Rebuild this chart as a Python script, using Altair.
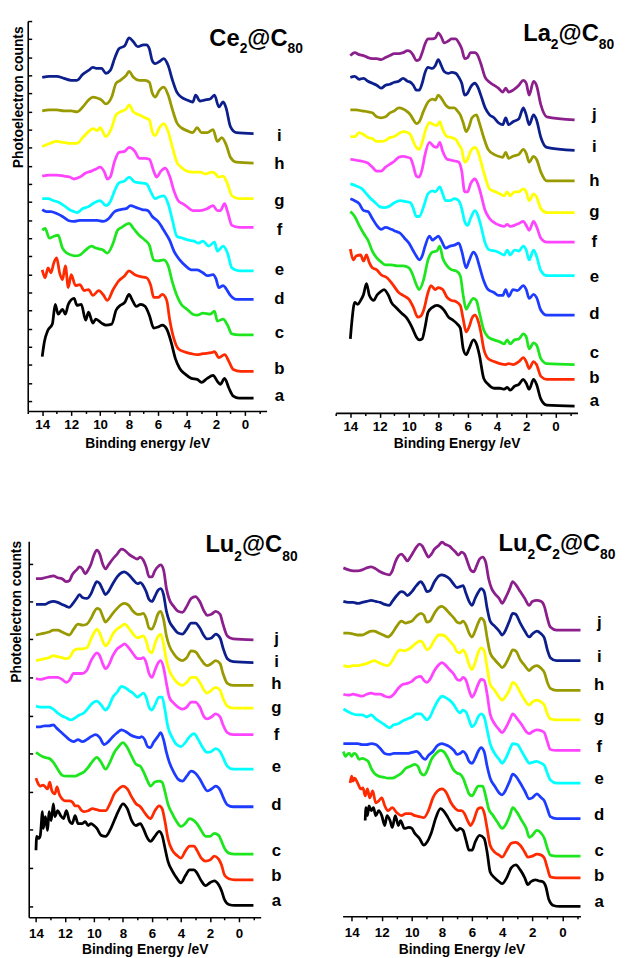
import altair as alt
import pandas as pd

FONT = "Liberation Sans"

# ---------------- Ce2@C80 (binding energy eV, counts a.u.) ----------------
CE_A = [(14.0,55),(13.85,70),(13.6,82),(13.3,88),(13.1,108),(12.9,98),(12.6,103),(12.4,98),(12.2,108),(11.8,114),(11.6,107),(11.3,108),(11.0,92),(10.8,100),(10.5,89),(10.3,93),(9.9,89),(9.6,87),(9.2,88),(8.9,102),(8.6,107),(8.3,110),(8.0,118),(7.8,113),(7.5,106),(7.2,108),(6.9,106),(6.6,97),(6.3,84),(6.0,85),(5.7,87),(5.4,83),(5.1,70),(4.8,53),(4.5,43),(4.1,37),(3.7,33),(3.3,32),(3.0,29),(2.6,33),(2.2,36),(1.9,30),(1.7,27),(1.4,33),(1.1,23),(0.8,15),(0.4,13),(-0.6,13)]
CE_B = [(14.0,143),(13.8,135),(13.6,145),(13.4,140),(13.2,150),(13.0,155),(12.8,140),(12.6,133),(12.4,147),(12.2,125),(12.0,138),(11.7,127),(11.4,128),(11.1,122),(10.8,123),(10.5,117),(10.1,122),(9.8,118),(9.5,112),(9.1,123),(8.7,132),(8.3,137),(8.0,142),(7.6,138),(7.2,136),(6.8,135),(6.5,127),(6.3,115),(6.0,115),(5.7,118),(5.4,112),(5.2,93),(4.9,73),(4.6,63),(4.2,60),(3.7,58),(3.3,57),(2.9,58),(2.3,59),(2.1,60),(1.8,54),(1.4,57),(1.1,50),(0.8,42),(0.3,40),(-0.6,40)]
CE_C = [(14.0,183),(13.8,185),(13.5,175),(13.2,177),(12.9,178),(12.6,165),(12.3,160),(12.0,158),(11.7,157),(11.4,158),(11.0,163),(10.6,167),(10.3,165),(9.8,163),(9.5,160),(9.1,170),(8.8,183),(8.5,186),(8.0,190),(7.7,185),(7.3,178),(6.9,173),(6.6,168),(6.3,153),(6.0,152),(5.6,153),(5.3,147),(5.0,130),(4.7,117),(4.4,108),(4.0,103),(3.6,98),(3.3,97),(2.9,99),(2.4,98),(2.1,101),(1.9,91),(1.5,93),(1.2,87),(0.9,78),(0.4,77),(-0.6,77)]
CE_D = [(14.0,204),(13.7,202),(13.4,202),(13.0,200),(12.6,197),(12.2,193),(11.8,192),(11.4,193),(11.0,193),(10.6,193),(10.2,193),(9.8,192),(9.4,195),(9.0,202),(8.6,204),(8.2,205),(7.9,208),(7.5,206),(7.1,204),(6.7,203),(6.4,197),(6.0,192),(5.6,183),(5.2,173),(4.9,162),(4.5,153),(4.1,147),(3.7,143),(3.3,143),(2.9,140),(2.6,137),(2.2,138),(2.0,134),(1.8,125),(1.5,127),(1.3,124),(1.0,117),(0.6,113),(-0.6,113)]
CE_E = [(14.0,215),(13.6,215),(13.2,213),(12.8,211),(12.4,207),(12.0,203),(11.6,201),(11.2,205),(10.8,207),(10.4,211),(10.0,213),(9.6,208),(9.3,212),(9.0,223),(8.7,231),(8.3,233),(8.0,237),(7.6,232),(7.2,231),(6.8,230),(6.5,222),(6.2,215),(5.9,217),(5.6,218),(5.3,210),(5.0,193),(4.7,177),(4.3,175),(3.9,173),(3.5,172),(3.2,170),(2.9,172),(2.5,167),(2.1,171),(1.9,162),(1.5,167),(1.2,160),(0.9,145),(0.4,142),(-0.6,142)]
CE_F = [(14.0,238),(13.5,239),(13.0,239),(12.5,238),(12.1,237),(11.8,235),(11.4,237),(11.0,241),(10.6,243),(10.3,245),(10.0,247),(9.7,242),(9.5,235),(9.3,237),(9.0,253),(8.7,262),(8.3,263),(8.0,267),(7.6,263),(7.3,256),(6.9,256),(6.6,255),(6.3,243),(6.1,237),(5.8,243),(5.5,246),(5.2,238),(4.9,223),(4.6,213),(4.3,210),(4.0,207),(3.6,203),(3.1,203),(2.6,205),(2.2,208),(1.9,203),(1.7,203),(1.4,210),(1.2,202),(0.9,188),(0.4,186),(-0.6,186)]
CE_G = [(14.0,268),(13.5,271),(13.0,273),(12.5,272),(12.0,271),(11.6,271),(11.2,277),(10.8,283),(10.5,286),(10.2,284),(10.0,287),(9.6,278),(9.2,287),(8.9,300),(8.6,303),(8.2,306),(8.0,310),(7.7,303),(7.3,300),(6.9,297),(6.6,295),(6.4,283),(6.2,279),(5.9,287),(5.6,291),(5.3,283),(5.0,267),(4.7,252),(4.4,247),(4.0,243),(3.6,242),(3.1,242),(2.7,240),(2.3,242),(2.1,241),(1.8,237),(1.5,238),(1.2,230),(0.9,218),(0.4,215),(-0.6,215)]
CE_H = [(14.0,304),(13.5,305),(13.0,305),(12.5,304),(12.0,304),(11.6,303),(11.2,308),(10.8,315),(10.5,318),(10.2,317),(9.9,315),(9.6,311),(9.2,318),(8.9,332),(8.6,335),(8.2,340),(8.0,344),(7.7,338),(7.3,335),(6.9,335),(6.6,333),(6.4,322),(6.2,318),(5.9,325),(5.6,328),(5.3,320),(5.0,305),(4.7,292),(4.4,287),(4.0,284),(3.6,282),(3.3,287),(3.0,282),(2.6,282),(2.2,285),(1.9,273),(1.6,277),(1.3,270),(1.0,257),(0.6,252),(-0.6,251)]
CE_I = [(14.0,338),(13.5,339),(13.0,339),(12.5,337),(12.0,335),(11.6,335),(11.2,341),(10.8,345),(10.5,348),(10.2,347),(9.9,347),(9.6,342),(9.3,345),(9.0,357),(8.7,367),(8.3,370),(8.0,378),(7.7,374),(7.4,369),(7.0,371),(6.8,371),(6.6,367),(6.4,355),(6.2,352),(5.9,354),(5.6,357),(5.3,350),(5.0,335),(4.7,323),(4.4,318),(4.0,315),(3.6,313),(3.4,320),(3.1,314),(2.8,315),(2.4,316),(2.1,320),(1.8,308),(1.5,313),(1.3,307),(1.0,288),(0.6,282),(-0.6,281)]
CE_LABEL_Y = [10, 37, 74, 108, 138, 178, 208, 245, 273]
CE_YTICKS = [10, 28.3, 46.7, 65, 83.3, 101.7, 120, 138.3, 156.7, 175, 193.3, 211.7, 230, 248.3, 266.7, 285, 303.3, 321.7, 340, 358.3, 376.7, 395]

# ---------------- La2@C80 ----------------
LA_A = [(14.0,75),(13.9,92),(13.7,112),(13.5,110),(13.3,114),(13.1,120),(12.9,131),(12.7,119),(12.4,114),(12.2,119),(12.0,122),(11.7,125),(11.4,119),(11.2,112),(10.9,107),(10.5,101),(10.2,97),(9.8,87),(9.5,77),(9.3,74),(9.1,75),(8.9,87),(8.7,102),(8.4,107),(8.1,109),(7.9,108),(7.6,104),(7.3,97),(7.0,94),(6.7,90),(6.5,86),(6.3,65),(6.1,59),(5.9,65),(5.6,74),(5.4,70),(5.2,59),(4.9,35),(4.6,29),(4.2,25),(3.8,25),(3.5,24),(3.3,26),(3.1,23),(2.8,27),(2.5,29),(2.2,34),(2.0,30),(1.8,24),(1.5,34),(1.3,29),(1.0,14),(0.6,8),(-1.3,7)]
LA_B = [(14.0,166),(13.8,155),(13.6,159),(13.3,160),(13.1,154),(12.9,160),(12.7,152),(12.5,147),(12.2,145),(11.9,140),(11.5,137),(11.1,130),(10.7,122),(10.4,119),(10.0,115),(9.7,107),(9.4,97),(9.2,98),(9.0,104),(8.7,122),(8.5,129),(8.2,125),(8.0,127),(7.7,125),(7.4,117),(7.1,114),(6.8,113),(6.5,109),(6.3,95),(6.1,82),(5.9,87),(5.7,96),(5.5,99),(5.3,94),(5.1,82),(4.9,65),(4.6,55),(4.2,52),(3.8,50),(3.4,49),(3.2,50),(2.9,49),(2.5,52),(2.2,56),(2.0,52),(1.8,45),(1.5,52),(1.3,49),(1.0,37),(0.6,34),(-1.3,34)]
LA_C = [(14.0,204),(13.7,199),(13.4,190),(13.1,182),(12.8,175),(12.5,164),(12.2,157),(11.9,153),(11.6,150),(11.2,150),(10.8,149),(10.4,149),(10.0,147),(9.8,142),(9.5,130),(9.3,125),(9.0,135),(8.7,155),(8.4,163),(8.1,164),(7.9,169),(7.7,157),(7.4,149),(7.1,145),(6.8,144),(6.5,139),(6.3,119),(6.1,105),(5.9,110),(5.6,116),(5.4,114),(5.2,102),(4.9,84),(4.6,77),(4.2,74),(3.8,72),(3.5,70),(3.3,74),(3.1,70),(2.8,74),(2.5,75),(2.2,80),(2.0,77),(1.8,65),(1.5,71),(1.3,69),(1.0,55),(0.6,50),(-1.3,49)]
LA_D = [(14.0,217),(13.7,215),(13.4,212),(13.1,205),(12.8,204),(12.5,197),(12.2,190),(11.9,186),(11.6,188),(11.2,186),(10.9,184),(10.6,182),(10.3,177),(10.0,172),(9.7,164),(9.5,159),(9.3,155),(9.1,159),(8.9,169),(8.6,179),(8.4,175),(8.2,177),(8.0,179),(7.8,175),(7.5,167),(7.2,169),(6.9,170),(6.6,172),(6.4,164),(6.1,147),(5.9,154),(5.6,163),(5.4,159),(5.2,149),(4.9,134),(4.6,125),(4.2,122),(3.9,119),(3.6,119),(3.4,125),(3.2,118),(2.9,125),(2.6,124),(2.2,129),(2.0,125),(1.8,116),(1.5,120),(1.3,117),(1.0,104),(0.6,99),(-1.3,99)]
LA_E = [(14.0,232),(13.6,230),(13.2,227),(12.9,222),(12.6,217),(12.3,213),(12.0,209),(11.7,208),(11.4,209),(11.0,213),(10.6,215),(10.2,214),(9.9,213),(9.7,207),(9.5,199),(9.3,199),(9.0,209),(8.7,222),(8.4,225),(8.2,224),(7.9,229),(7.7,222),(7.5,215),(7.2,215),(6.9,217),(6.6,215),(6.4,207),(6.2,194),(6.0,190),(5.8,197),(5.5,205),(5.3,200),(5.1,190),(4.8,172),(4.5,165),(4.1,164),(3.8,162),(3.5,160),(3.3,165),(3.1,160),(2.8,165),(2.5,164),(2.2,169),(2.0,165),(1.8,155),(1.5,165),(1.3,159),(1.0,144),(0.6,139),(-1.3,139)]
LA_F = [(14.0,257),(13.6,256),(13.2,255),(12.8,253),(12.5,249),(12.2,245),(11.9,245),(11.6,249),(11.3,252),(11.0,255),(10.7,259),(10.4,260),(10.1,259),(9.9,258),(9.7,250),(9.5,240),(9.3,239),(9.1,247),(8.9,262),(8.6,274),(8.3,270),(8.1,269),(7.9,274),(7.7,265),(7.4,257),(7.1,256),(6.8,255),(6.6,254),(6.4,245),(6.2,224),(6.0,224),(5.8,232),(5.5,237),(5.3,232),(5.1,222),(4.8,205),(4.5,197),(4.1,192),(3.8,190),(3.5,189),(3.3,191),(3.1,189),(2.8,190),(2.5,192),(2.2,194),(2.0,190),(1.8,185),(1.5,194),(1.3,189),(1.0,177),(0.6,173),(-1.3,173)]
LA_G = [(14.0,280),(13.7,280),(13.4,284),(13.1,282),(12.8,279),(12.5,278),(12.2,275),(11.9,275),(11.6,276),(11.3,279),(11.0,280),(10.7,283),(10.4,285),(10.1,284),(9.9,282),(9.7,275),(9.5,269),(9.3,267),(9.1,274),(8.9,285),(8.6,294),(8.3,292),(8.1,291),(7.9,295),(7.7,287),(7.4,280),(7.1,279),(6.8,277),(6.6,272),(6.4,267),(6.2,254),(6.0,257),(5.8,265),(5.5,269),(5.3,265),(5.1,255),(4.8,239),(4.5,227),(4.1,224),(3.8,222),(3.5,220),(3.3,224),(3.1,220),(2.8,224),(2.5,224),(2.2,227),(2.0,224),(1.8,215),(1.5,222),(1.3,219),(1.0,207),(0.6,203),(-1.3,203)]
LA_H = [(14.0,307),(13.6,307),(13.2,306),(12.8,305),(12.5,304),(12.2,300),(11.9,299),(11.6,300),(11.3,304),(11.0,306),(10.7,309),(10.4,308),(10.1,305),(9.9,302),(9.7,297),(9.5,293),(9.3,295),(9.0,306),(8.7,315),(8.4,318),(8.2,317),(8.0,322),(7.8,319),(7.5,312),(7.2,309),(6.9,309),(6.7,306),(6.5,302),(6.3,294),(6.1,285),(5.9,290),(5.7,299),(5.4,302),(5.2,294),(4.9,279),(4.6,267),(4.2,262),(3.9,260),(3.6,259),(3.4,264),(3.2,258),(2.9,260),(2.5,262),(2.2,267),(2.0,263),(1.8,254),(1.5,260),(1.3,257),(1.0,244),(0.6,235),(-1.3,235)]
LA_I = [(14.0,340),(13.7,341),(13.4,338),(13.1,339),(12.8,336),(12.5,334),(12.2,332),(11.9,329),(11.6,332),(11.3,333),(11.0,335),(10.7,336),(10.4,339),(10.1,336),(9.9,335),(9.7,332),(9.5,327),(9.3,327),(9.1,334),(8.9,345),(8.7,350),(8.4,349),(8.2,352),(8.0,358),(7.8,352),(7.6,346),(7.3,344),(7.1,345),(6.8,344),(6.6,340),(6.4,334),(6.2,322),(6.0,324),(5.8,330),(5.5,334),(5.3,330),(5.1,322),(4.8,309),(4.5,302),(4.2,299),(3.9,294),(3.6,292),(3.4,299),(3.2,292),(2.9,295),(2.5,298),(2.2,309),(2.0,302),(1.8,292),(1.5,302),(1.3,297),(1.0,279),(0.6,269),(-1.3,266)]
LA_J = [(14.0,362),(13.7,365),(13.4,363),(13.1,362),(12.8,360),(12.5,359),(12.2,359),(11.9,358),(11.6,360),(11.3,362),(11.0,364),(10.7,364),(10.4,365),(10.1,367),(9.9,366),(9.7,362),(9.5,357),(9.3,358),(9.1,365),(8.9,374),(8.7,379),(8.4,379),(8.2,380),(8.0,385),(7.8,381),(7.6,375),(7.3,377),(7.1,379),(6.8,379),(6.6,375),(6.4,369),(6.2,359),(6.0,360),(5.8,365),(5.5,365),(5.3,362),(5.1,354),(4.8,340),(4.5,335),(4.2,332),(3.9,329),(3.6,325),(3.4,329),(3.2,325),(2.9,327),(2.5,332),(2.2,337),(2.0,334),(1.8,322),(1.5,336),(1.3,332),(1.0,312),(0.6,300),(-1.3,297)]
LA_LABEL_Y = [7, 30, 56, 95, 133, 168, 199, 230, 264, 297]

# ---------------- Lu2@C80 ----------------
LU_A = [(14.0,68),(13.95,82),(13.8,80),(13.7,83),(13.55,107),(13.5,90),(13.35,102),(13.2,88),(13.1,107),(12.95,98),(12.8,115),(12.7,102),(12.5,108),(12.3,103),(12.1,100),(11.9,108),(11.7,98),(11.5,95),(11.3,103),(11.1,95),(10.8,95),(10.6,97),(10.4,93),(10.2,95),(10.0,93),(9.8,90),(9.5,83),(9.2,82),(8.9,88),(8.6,98),(8.3,108),(8.0,115),(7.7,110),(7.4,98),(7.1,93),(6.8,95),(6.6,90),(6.3,80),(6.1,77),(5.8,82),(5.5,87),(5.3,83),(5.1,70),(4.9,57),(4.6,47),(4.3,40),(4.0,35),(3.7,42),(3.4,48),(3.1,48),(2.9,45),(2.6,37),(2.3,32),(2.0,35),(1.7,37),(1.4,33),(1.2,27),(1.0,18),(0.7,13),(0.3,12),(-1.0,12)]
LU_B = [(14.0,141),(13.9,137),(13.7,133),(13.5,134),(13.35,132),(13.2,130),(13.05,137),(12.9,128),(12.7,125),(12.55,132),(12.4,125),(12.2,120),(12.0,118),(11.7,118),(11.5,117),(11.3,113),(11.1,113),(10.9,109),(10.7,107),(10.4,108),(10.1,110),(9.8,109),(9.5,108),(9.2,108),(8.9,115),(8.6,125),(8.3,130),(8.0,133),(7.7,130),(7.4,122),(7.1,115),(6.8,112),(6.6,108),(6.3,102),(6.1,100),(5.8,108),(5.5,113),(5.3,110),(5.1,97),(4.9,80),(4.6,68),(4.3,63),(4.0,60),(3.7,67),(3.4,72),(3.1,72),(2.9,68),(2.6,60),(2.3,57),(2.0,58),(1.7,62),(1.4,59),(1.2,53),(1.0,43),(0.7,39),(0.3,38),(-1.0,38)]
LU_C = [(14.0,167),(13.7,164),(13.4,162),(13.1,161),(12.8,157),(12.5,150),(12.2,144),(11.9,143),(11.6,143),(11.3,143),(11.0,145),(10.7,147),(10.4,152),(10.1,158),(9.8,162),(9.5,157),(9.2,150),(8.9,157),(8.6,167),(8.3,173),(8.0,177),(7.7,172),(7.4,163),(7.1,155),(6.8,153),(6.6,148),(6.3,138),(6.1,133),(5.8,137),(5.5,138),(5.3,137),(5.1,127),(4.9,115),(4.6,105),(4.3,97),(4.0,92),(3.7,95),(3.4,100),(3.1,98),(2.9,95),(2.6,88),(2.3,82),(2.0,82),(1.7,85),(1.4,83),(1.2,77),(1.0,70),(0.7,65),(0.3,64),(-1.0,64)]
LU_D = [(14.0,193),(13.7,193),(13.4,194),(13.1,194),(12.8,195),(12.6,192),(12.3,188),(12.0,184),(11.7,180),(11.4,178),(11.1,180),(10.8,178),(10.5,180),(10.2,183),(9.9,185),(9.6,182),(9.3,175),(9.0,178),(8.7,183),(8.4,187),(8.1,190),(7.8,188),(7.5,185),(7.2,183),(6.9,182),(6.7,183),(6.5,180),(6.3,173),(6.1,172),(5.9,177),(5.6,183),(5.4,187),(5.2,180),(5.0,167),(4.8,157),(4.5,147),(4.2,140),(3.9,138),(3.6,143),(3.3,148),(3.0,146),(2.7,140),(2.4,132),(2.2,128),(1.9,130),(1.6,133),(1.3,129),(1.1,122),(0.8,114),(0.4,112),(-1.0,112)]
LU_E = [(14.0,214),(13.7,213),(13.4,213),(13.1,213),(12.8,211),(12.5,207),(12.2,204),(11.9,202),(11.6,200),(11.3,202),(11.0,205),(10.7,207),(10.4,212),(10.1,217),(9.8,219),(9.5,215),(9.2,210),(9.0,213),(8.7,223),(8.4,228),(8.1,234),(7.9,233),(7.6,230),(7.3,227),(7.0,223),(6.8,225),(6.6,227),(6.4,223),(6.2,213),(6.0,210),(5.8,215),(5.5,223),(5.3,223),(5.1,210),(4.9,193),(4.6,182),(4.3,175),(4.0,173),(3.7,177),(3.4,183),(3.1,186),(2.8,180),(2.5,172),(2.2,167),(1.9,168),(1.6,171),(1.3,168),(1.1,162),(0.8,153),(0.4,150),(-1.0,150)]
LU_F = [(14.0,242),(13.7,241),(13.4,242),(13.1,243),(12.8,243),(12.5,243),(12.2,241),(11.9,238),(11.7,240),(11.4,247),(11.1,247),(10.8,247),(10.5,250),(10.2,260),(10.0,265),(9.8,268),(9.6,265),(9.4,257),(9.2,252),(9.0,255),(8.7,265),(8.4,272),(8.1,275),(7.9,277),(7.6,273),(7.3,267),(7.0,262),(6.8,262),(6.6,263),(6.4,258),(6.2,247),(6.0,243),(5.8,250),(5.6,257),(5.4,260),(5.2,253),(5.0,237),(4.8,223),(4.5,217),(4.2,213),(3.9,211),(3.6,213),(3.3,218),(3.0,218),(2.7,213),(2.4,203),(2.2,201),(1.9,203),(1.6,206),(1.3,203),(1.1,195),(0.8,187),(0.4,185),(-1.0,185)]
LU_G = [(14.0,260),(13.7,261),(13.4,262),(13.1,263),(12.8,265),(12.5,264),(12.2,263),(11.9,262),(11.7,263),(11.4,270),(11.1,272),(10.8,272),(10.5,273),(10.2,282),(10.0,288),(9.8,292),(9.6,288),(9.4,280),(9.2,275),(9.0,278),(8.7,287),(8.4,292),(8.1,295),(7.9,297),(7.6,293),(7.3,287),(7.0,283),(6.8,284),(6.6,285),(6.4,280),(6.2,270),(6.0,268),(5.8,277),(5.6,284),(5.4,287),(5.2,277),(5.0,260),(4.8,250),(4.5,242),(4.2,237),(3.9,235),(3.6,238),(3.3,243),(3.0,243),(2.7,238),(2.4,230),(2.2,227),(1.9,230),(1.6,233),(1.3,230),(1.1,222),(0.8,214),(0.4,212),(-1.0,212)]
LU_H = [(14.0,286),(13.7,287),(13.4,288),(13.1,289),(12.8,291),(12.5,291),(12.2,289),(11.9,287),(11.7,286),(11.4,292),(11.1,297),(10.8,296),(10.5,297),(10.2,303),(10.0,309),(9.8,313),(9.6,312),(9.4,305),(9.2,299),(9.0,302),(8.7,308),(8.4,313),(8.1,317),(7.9,318),(7.6,316),(7.3,310),(7.0,307),(6.8,307),(6.6,308),(6.4,303),(6.2,293),(6.0,292),(5.8,298),(5.6,307),(5.4,310),(5.2,302),(5.0,285),(4.8,275),(4.5,267),(4.2,262),(3.9,260),(3.6,263),(3.3,270),(3.0,269),(2.7,263),(2.4,257),(2.2,255),(1.9,257),(1.6,260),(1.3,257),(1.1,247),(0.8,237),(0.4,235),(-1.0,235)]
LU_I = [(14.0,317),(13.7,317),(13.4,317),(13.1,319),(12.8,320),(12.5,319),(12.2,317),(11.9,315),(11.7,314),(11.5,317),(11.2,323),(11.0,327),(10.8,324),(10.5,323),(10.2,328),(10.0,335),(9.8,340),(9.6,338),(9.4,332),(9.2,327),(9.0,330),(8.7,338),(8.4,345),(8.1,349),(7.9,350),(7.6,347),(7.3,342),(7.0,338),(6.8,339),(6.6,336),(6.4,330),(6.2,322),(6.0,320),(5.8,325),(5.6,331),(5.4,333),(5.2,327),(5.0,310),(4.8,300),(4.5,293),(4.2,288),(3.9,287),(3.6,292),(3.3,298),(3.0,298),(2.7,293),(2.4,285),(2.2,282),(1.9,283),(1.6,287),(1.3,283),(1.1,273),(0.8,262),(0.4,259),(-1.0,258)]
LU_J = [(14.0,343),(13.7,343),(13.4,344),(13.1,345),(12.8,346),(12.5,344),(12.2,343),(11.9,340),(11.7,341),(11.5,347),(11.2,352),(11.0,355),(10.8,353),(10.6,348),(10.4,352),(10.2,358),(10.0,367),(9.8,372),(9.6,368),(9.4,358),(9.2,353),(9.0,357),(8.7,363),(8.4,368),(8.1,373),(7.9,372),(7.6,368),(7.3,365),(7.0,363),(6.8,365),(6.6,362),(6.4,355),(6.2,345),(6.0,345),(5.8,351),(5.6,355),(5.4,357),(5.2,352),(5.0,333),(4.8,322),(4.5,315),(4.2,310),(3.9,309),(3.6,315),(3.3,323),(3.0,325),(2.7,320),(2.4,310),(2.2,306),(1.9,307),(1.6,310),(1.3,307),(1.1,297),(0.8,285),(0.4,282),(-1.0,281)]
LU_LABEL_Y = [11, 37, 62, 109, 147, 180, 207, 231, 254, 277]
LU_YTICKS = [11, 50, 89, 127, 166, 204, 243, 282, 320, 358]

# ---------------- Lu2C2@C80 ----------------
LC_A = [(13.1,97),(13.05,110),(12.95,102),(12.85,112),(12.7,107),(12.55,110),(12.4,102),(12.2,107),(12.0,102),(11.8,92),(11.65,102),(11.45,97),(11.3,90),(11.1,102),(10.9,92),(10.75,97),(10.5,89),(10.2,90),(10.0,89),(9.8,84),(9.5,79),(9.2,72),(9.0,75),(8.7,85),(8.4,100),(8.1,109),(7.9,107),(7.6,100),(7.3,92),(7.0,87),(6.8,89),(6.6,87),(6.4,77),(6.2,67),(6.0,67),(5.8,75),(5.5,82),(5.2,79),(5.0,65),(4.8,45),(4.5,39),(4.2,35),(4.0,33),(3.7,39),(3.4,49),(3.1,52),(2.8,47),(2.5,39),(2.3,32),(2.1,35),(1.8,37),(1.6,36),(1.3,35),(1.1,30),(0.9,17),(0.6,11),(0.2,10),(-1.2,10)]
LC_B = [(14.1,135),(14.0,142),(13.9,137),(13.8,140),(13.6,135),(13.4,129),(13.25,130),(13.1,122),(12.95,129),(12.8,120),(12.6,127),(12.4,115),(12.2,117),(12.0,120),(11.8,112),(11.6,107),(11.3,110),(11.0,105),(10.7,102),(10.4,104),(10.1,104),(9.8,102),(9.5,101),(9.2,100),(8.9,107),(8.6,120),(8.3,127),(8.0,129),(7.7,125),(7.4,115),(7.1,109),(6.9,107),(6.7,107),(6.5,104),(6.3,97),(6.1,92),(5.9,97),(5.6,109),(5.4,110),(5.2,105),(5.0,89),(4.8,72),(4.5,65),(4.2,62),(4.0,60),(3.7,67),(3.4,74),(3.1,75),(2.8,72),(2.5,65),(2.3,60),(2.0,61),(1.7,63),(1.4,62),(1.2,59),(1.0,49),(0.8,40),(0.4,39),(-1.2,39)]
LC_C = [(14.55,167),(14.4,162),(14.3,164),(14.15,165),(14.0,162),(13.85,165),(13.7,164),(13.5,159),(13.3,160),(13.1,159),(12.9,157),(12.7,150),(12.5,145),(12.2,142),(11.9,141),(11.6,140),(11.3,140),(11.0,142),(10.7,145),(10.4,150),(10.1,152),(9.8,154),(9.6,152),(9.4,145),(9.2,143),(9.0,147),(8.7,159),(8.4,165),(8.1,168),(7.9,167),(7.6,160),(7.3,150),(7.0,145),(6.8,144),(6.6,140),(6.4,132),(6.2,124),(6.0,122),(5.8,127),(5.6,132),(5.3,132),(5.1,122),(4.9,109),(4.6,102),(4.3,95),(4.0,89),(3.8,92),(3.5,102),(3.3,110),(3.0,105),(2.7,97),(2.4,89),(2.2,80),(2.0,82),(1.7,87),(1.4,84),(1.2,79),(1.0,69),(0.8,62),(0.4,61),(-1.2,61)]
LC_D = [(14.55,175),(14.2,175),(13.9,175),(13.6,175),(13.3,174),(13.0,174),(12.7,175),(12.4,174),(12.1,170),(11.8,165),(11.5,164),(11.2,165),(10.9,165),(10.6,165),(10.3,165),(10.0,166),(9.7,167),(9.5,165),(9.3,161),(9.1,159),(8.9,163),(8.6,167),(8.3,173),(8.0,175),(7.8,174),(7.5,172),(7.2,168),(7.0,164),(6.8,165),(6.6,167),(6.4,164),(6.2,157),(6.0,155),(5.8,160),(5.6,167),(5.4,171),(5.2,167),(5.0,152),(4.8,140),(4.5,132),(4.2,125),(4.0,123),(3.8,127),(3.5,137),(3.3,144),(3.1,142),(2.8,135),(2.5,127),(2.2,119),(2.0,120),(1.7,124),(1.4,120),(1.2,117),(1.0,109),(0.8,101),(0.4,99),(-1.2,99)]
LC_E = [(14.55,210),(14.2,207),(13.9,205),(13.6,204),(13.3,204),(13.0,202),(12.7,204),(12.4,200),(12.1,197),(11.8,194),(11.5,191),(11.2,194),(10.9,195),(10.6,198),(10.3,200),(10.0,202),(9.7,205),(9.4,205),(9.2,202),(9.0,199),(8.8,202),(8.5,212),(8.2,220),(8.0,223),(7.8,222),(7.5,219),(7.2,214),(7.0,209),(6.8,206),(6.6,209),(6.4,207),(6.2,199),(6.0,192),(5.8,195),(5.6,202),(5.4,205),(5.2,202),(5.0,189),(4.8,175),(4.5,165),(4.2,159),(4.0,155),(3.8,159),(3.5,169),(3.3,175),(3.0,174),(2.7,167),(2.4,159),(2.2,155),(2.0,156),(1.7,157),(1.4,155),(1.2,153),(1.0,145),(0.8,138),(0.4,135),(-1.2,135)]
LC_F = [(14.55,225),(14.2,224),(13.9,225),(13.6,224),(13.3,223),(13.0,225),(12.7,226),(12.4,225),(12.1,225),(11.8,223),(11.5,222),(11.2,225),(10.9,231),(10.6,235),(10.3,236),(10.0,238),(9.7,242),(9.4,243),(9.2,239),(9.0,237),(8.8,240),(8.5,249),(8.2,255),(8.0,257),(7.8,255),(7.5,250),(7.2,245),(7.0,240),(6.8,239),(6.6,242),(6.4,239),(6.2,229),(6.0,222),(5.8,227),(5.6,235),(5.4,240),(5.2,239),(5.0,225),(4.8,205),(4.5,195),(4.2,189),(4.0,186),(3.8,190),(3.5,199),(3.3,205),(3.0,200),(2.7,194),(2.4,187),(2.2,185),(2.0,187),(1.7,189),(1.4,188),(1.2,186),(1.0,177),(0.8,169),(0.4,168),(-1.2,168)]
LC_G = [(14.55,254),(14.2,253),(13.9,254),(13.6,254),(13.3,255),(13.0,256),(12.7,258),(12.5,259),(12.2,257),(11.9,255),(11.6,254),(11.3,259),(11.0,267),(10.8,270),(10.5,269),(10.3,270),(10.0,273),(9.7,277),(9.4,279),(9.2,275),(9.0,270),(8.8,272),(8.5,280),(8.2,285),(8.0,285),(7.8,284),(7.5,279),(7.2,274),(7.0,268),(6.8,267),(6.6,270),(6.4,265),(6.2,255),(6.0,250),(5.8,257),(5.6,267),(5.4,272),(5.2,269),(5.0,252),(4.8,235),(4.5,229),(4.2,222),(4.0,219),(3.8,222),(3.5,230),(3.3,237),(3.1,235),(2.8,227),(2.5,219),(2.2,214),(2.0,217),(1.7,219),(1.4,217),(1.2,214),(1.0,205),(0.8,200),(0.4,199),(-1.2,199)]
LC_H = [(14.55,287),(14.2,287),(13.9,286),(13.6,285),(13.3,285),(13.0,287),(12.7,289),(12.5,289),(12.2,287),(11.9,285),(11.6,283),(11.3,287),(11.0,294),(10.7,299),(10.4,297),(10.2,298),(10.0,299),(9.7,304),(9.4,307),(9.2,305),(9.0,298),(8.8,299),(8.5,307),(8.2,313),(8.0,314),(7.8,312),(7.5,307),(7.2,302),(7.0,298),(6.8,297),(6.6,299),(6.4,295),(6.2,287),(6.0,283),(5.8,289),(5.6,297),(5.4,302),(5.2,299),(5.0,282),(4.8,267),(4.5,260),(4.2,255),(4.0,252),(3.8,255),(3.5,264),(3.3,270),(3.1,269),(2.8,260),(2.5,254),(2.2,249),(2.0,252),(1.7,254),(1.4,251),(1.2,247),(1.0,237),(0.8,231),(0.4,229),(-1.2,229)]
LC_I = [(14.55,319),(14.2,318),(13.9,318),(13.6,317),(13.3,318),(13.0,319),(12.7,320),(12.4,319),(12.1,318),(11.8,316),(11.5,315),(11.3,319),(11.0,325),(10.7,329),(10.5,328),(10.3,325),(10.0,329),(9.7,335),(9.4,339),(9.2,335),(9.0,329),(8.8,330),(8.5,339),(8.2,345),(8.0,346),(7.8,345),(7.5,342),(7.2,336),(7.0,333),(6.8,334),(6.6,335),(6.4,327),(6.2,319),(6.0,315),(5.8,322),(5.6,328),(5.4,332),(5.2,329),(5.0,312),(4.8,299),(4.5,294),(4.2,289),(4.0,285),(3.8,289),(3.5,300),(3.3,307),(3.1,306),(2.8,297),(2.5,289),(2.2,283),(2.0,286),(1.7,289),(1.4,286),(1.2,282),(1.0,270),(0.8,262),(0.4,259),(-1.2,259)]
LC_J = [(14.55,353),(14.2,351),(13.9,350),(13.6,350),(13.3,351),(13.0,353),(12.7,354),(12.4,352),(12.1,349),(11.8,347),(11.5,346),(11.3,350),(11.1,359),(10.9,365),(10.7,367),(10.5,364),(10.3,360),(10.1,364),(9.9,369),(9.7,374),(9.5,377),(9.3,375),(9.1,369),(8.9,364),(8.7,367),(8.5,372),(8.2,376),(8.0,379),(7.8,377),(7.5,375),(7.3,372),(7.1,369),(6.9,366),(6.7,369),(6.5,367),(6.3,359),(6.1,351),(5.9,349),(5.7,355),(5.5,362),(5.3,364),(5.1,359),(4.9,342),(4.7,332),(4.5,327),(4.2,322),(4.0,317),(3.8,322),(3.5,332),(3.3,339),(3.1,336),(2.8,329),(2.5,322),(2.2,315),(2.0,319),(1.7,320),(1.4,319),(1.2,314),(1.0,302),(0.8,293),(0.4,290),(-1.2,290)]
LC_LABEL_Y = [9, 36, 61, 98, 134, 166, 197, 229, 258, 292]

LETTERS = list("abcdefghij")
COLORS = ["#000000", "#ff2a00", "#1ee61e", "#1e3cff", "#00ffff",
          "#ff44ff", "#ffff00", "#999900", "#0c1f8c", "#8b1f8b"]
X_TICKS = list(range(-1, 16))

W, H = 617, 950

PANELS = [
    dict(curves=[CE_A, CE_B, CE_C, CE_D, CE_E, CE_F, CE_G, CE_H, CE_I], labels=CE_LABEL_Y,
         xdom=[-1.5, 15], xrng=[262, 20], ydom=[0, 395], yrng=[402, 7], xpos=402,
         xtitle="Binding energy /eV", xtitleY=37.5, labpad=2, label_x=275,
         yaxis=dict(xpos=20, values=CE_YTICKS, titleX=-9.3, titleY=83.7),
         title=[("Ce", 204, 32, 24), ("2", 234.7, 39.5, 14), ("@C", 242.5, 32, 24), ("80", 283.2, 39.5, 14)]),
    dict(curves=[LA_A, LA_B, LA_C, LA_D, LA_E, LA_F, LA_G, LA_H, LA_I, LA_J], labels=LA_LABEL_Y,
         xdom=[-1.5, 15], xrng=[577, 332], ydom=[0, 397], yrng=[404, 7], xpos=404,
         xtitle="Binding Energy /eV", xtitleY=35.5, labpad=2, label_x=594, yaxis=None,
         title=[("La", 522, 27, 24), ("2", 550, 35, 14), ("@C", 557.8, 27, 24), ("80", 598.5, 35, 14)]),
    dict(curves=[LU_A, LU_B, LU_C, LU_D, LU_E, LU_F, LU_G, LU_H, LU_I, LU_J], labels=LU_LABEL_Y,
         xdom=[-1.5, 14.5], xrng=[256, 21], ydom=[0, 381], yrng=[915, 534], xpos=915,
         xtitle="Binding Energy /eV", xtitleY=37, labpad=5, label_x=272,
         yaxis=dict(xpos=21, values=LU_YTICKS, titleX=-12.3, titleY=605),
         title=[("Lu", 200, 545, 24), ("2", 229.3, 554, 14), ("@C", 237.1, 545, 24), ("80", 277.9, 554, 14)]),
    dict(curves=[LC_A, LC_B, LC_C, LC_D, LC_E, LC_F, LC_G, LC_H, LC_I, LC_J], labels=LC_LABEL_Y,
         xdom=[-1.2, 14.6], xrng=[580, 339], ydom=[0, 380], yrng=[914, 534], xpos=914,
         xtitle="Binding Energy /eV", xtitleY=38, labpad=5, label_x=599, yaxis=None,
         title=[("Lu", 497, 544, 24), ("2", 526.3, 552, 14), ("C", 534.1, 544, 24), ("2", 551.4, 552, 14),
                ("@C", 559.2, 544, 24), ("80", 599.9, 552, 14)]),
]

layers = []
for p in PANELS:
    rows = []
    for letter, curve in zip(LETTERS, p["curves"]):
        for e, c in curve:
            rows.append({"curve": letter, "energy": e, "counts": c})
    df = pd.DataFrame(rows)
    xs = alt.Scale(domain=p["xdom"], range=p["xrng"], nice=False, zero=False)
    ys = alt.Scale(domain=p["ydom"], range=p["yrng"], nice=False, zero=False)

    xaxis = alt.Axis(
        orient="bottom", offset=p["xpos"] - H, values=X_TICKS,
        labelExpr="datum.value % 2 === 0 ? datum.label : ''",
        tickSize={"condition": {"test": "datum.value % 2 !== 0", "value": 2.5}, "value": 4.5},
        tickColor="black", tickWidth=1.5, domainColor="black", domainWidth=1.6,
        labelFont=FONT, labelFontSize=13.5, labelFontWeight="bold", labelColor="black",
        labelPadding=p["labpad"], labelOverlap=False, labelFlush=False,
        title=p["xtitle"], titleFont=FONT, titleFontSize=14, titleFontWeight="bold",
        titleColor="black", titleBaseline="alphabetic", titleY=p["xtitleY"], grid=False)

    if p["yaxis"]:
        ya = p["yaxis"]
        yaxis = alt.Axis(
            orient="right", offset=ya["xpos"] - W, values=ya["values"], labels=False,
            tickSize=4, tickColor="black", tickWidth=1.5, domainColor="black", domainWidth=1.6,
            title="Photoelectron counts", titleFont=FONT, titleFontSize=14, titleFontWeight="bold",
            titleColor="black", titleAngle=270, titleX=ya["titleX"], titleY=ya["titleY"],
            titleAlign="center", titleBaseline="middle", grid=False)
    else:
        yaxis = None

    lines = alt.Chart(df).mark_line(strokeWidth=2.8, interpolate="monotone").encode(
        x=alt.X("energy:Q", scale=xs, axis=xaxis),
        y=alt.Y("counts:Q", scale=ys, axis=yaxis),
        color=alt.Color("curve:N", scale=alt.Scale(domain=LETTERS, range=COLORS), legend=None),
        order=alt.Order("energy:Q", sort="descending"),
    )
    layers.append(lines)

    n = len(p["curves"])
    lab_df = pd.DataFrame({"curve": LETTERS[:n], "counts": p["labels"]})
    labels = alt.Chart(lab_df).mark_text(
        font=FONT, fontSize=17, fontWeight="bold", align="center", baseline="alphabetic", color="black"
    ).encode(
        x=alt.value(p["label_x"]),
        y=alt.Y("counts:Q", scale=ys, axis=None),
        text="curve:N",
    )
    layers.append(labels)

    for t, tx, ty, size in p["title"]:
        layers.append(
            alt.Chart(pd.DataFrame({"t": [t]})).mark_text(
                font=FONT, fontSize=size, fontWeight="bold", align="left", baseline="alphabetic", color="black"
            ).encode(x=alt.value(tx), y=alt.value(ty), text="t:N")
        )

chart = alt.layer(*layers).resolve_scale(x="independent", y="independent").properties(
    width=W, height=H, padding=0, autosize=alt.AutoSizeParams(type="none")
).configure(font=FONT).configure_view(strokeWidth=0)

chart.save("out.html", embed_options={"renderer": "svg", "actions": False})
